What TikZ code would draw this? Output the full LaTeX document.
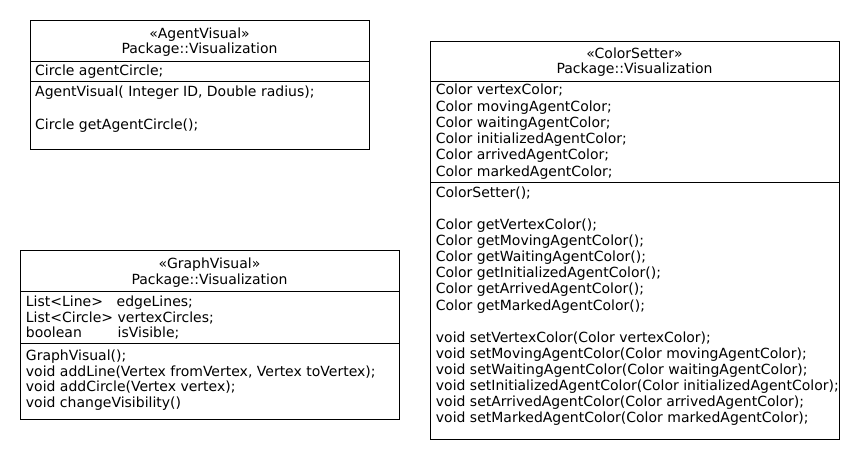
\documentclass[tikz,border=0pt]{standalone}
\usepackage{fontspec}
\setmainfont{DejaVu Sans}
\begin{document}
\begin{tikzpicture}[x=1pt,y=-1pt,
  part/.style={draw=black, line width=1pt, inner sep=0pt, anchor=north west, minimum height=#1},
  txt/.style={anchor=base west, inner sep=0pt, font=\fontsize{14}{16}\selectfont},
  ttl/.style={anchor=base, inner sep=0pt, font=\fontsize{14}{16}\selectfont}]
\useasboundingbox (0,0) rectangle (860,460);

% ---------- AgentVisual ----------
\node[part=41pt, minimum width=339pt] (avh) at (30,20) {};
\node[part=20pt, minimum width=339pt] (ava) at (30,61) {};
\node[part=68pt, minimum width=339pt] (avm) at (30,81) {};
\node[ttl] (avt1) at (199.5,38.3) {«AgentVisual»};
\node[ttl] (avt2) at (199.5,54) {Package::Visualization};
\node[txt] (ava1) at (35,76) {Circle agentCircle;};
\node[txt] (avm1) at (35,96.7) {AgentVisual( Integer ID, Double radius);};
\node[txt] (avm2) at (35,129.3) {Circle getAgentCircle();};

% ---------- GraphVisual ----------
\node[part=41pt, minimum width=379pt] (gvh) at (20,250) {};
\node[part=52pt, minimum width=379pt] (gva) at (20,291) {};
\node[part=76pt, minimum width=379pt] (gvm) at (20,343) {};
\node[ttl] (gvt1) at (209.5,268.3) {«GraphVisual»};
\node[ttl] (gvt2) at (209.5,284) {Package::Visualization};
\node[txt] (gva1) at (25.7,306.7) {List<Line>};
\node[txt] (gva1b) at (116.5,306.7) {edgeLines;};
\node[txt] (gva2) at (25.7,322.3) {List<Circle>};
\node[txt] (gva2b) at (117.5,322.3) {vertexCircles;};
\node[txt] (gva3) at (25.7,337.7) {boolean};
\node[txt] (gva3b) at (117.5,337.7) {isVisible;};
\foreach \t [count=\i from 0] in {GraphVisual();,
    {void addLine(Vertex fromVertex, Vertex toVertex);},
    void addCircle(Vertex vertex);,
    void changeVisibility()}
  \node[txt] (gvm\i) at (25.7,360.7+\i*15.55) {\t};

% ---------- ColorSetter ----------
\node[part=40pt, minimum width=409pt] (csh) at (430,41) {};
\node[part=101pt, minimum width=409pt] (csa) at (430,81) {};
\node[part=257pt, minimum width=409pt] (csm) at (430,182) {};
\node[ttl] (cst1) at (634.5,58.3) {«ColorSetter»};
\node[ttl] (cst2) at (634.5,74) {Package::Visualization};
\foreach \t [count=\i from 0] in {Color vertexColor;, Color movingAgentColor;,
    Color waitingAgentColor;, Color initializedAgentColor;,
    Color arrivedAgentColor;, Color markedAgentColor;}
  \node[txt] (csa\i) at (435.7,95+\i*16.2) {\t};
\node[txt] (csm0) at (435.7,197.3) {ColorSetter();};
\foreach \t [count=\i from 2] in {Color getVertexColor();, Color getMovingAgentColor();,
    Color getWaitingAgentColor();, Color getInitializedAgentColor();,
    Color getArrivedAgentColor();, Color getMarkedAgentColor();}
  \node[txt] (csm\i) at (435.7,197.3+\i*16.1) {\t};
\foreach \t [count=\i from 9] in {void setVertexColor(Color vertexColor);,
    void setMovingAgentColor(Color movingAgentColor);,
    void setWaitingAgentColor(Color waitingAgentColor);,
    void setInitializedAgentColor(Color initializedAgentColor);,
    void setArrivedAgentColor(Color arrivedAgentColor);,
    void setMarkedAgentColor(Color markedAgentColor);}
  \node[txt] (csm\i) at (435.7,197.3+\i*16.1) {\t};
\end{tikzpicture}
\end{document}
